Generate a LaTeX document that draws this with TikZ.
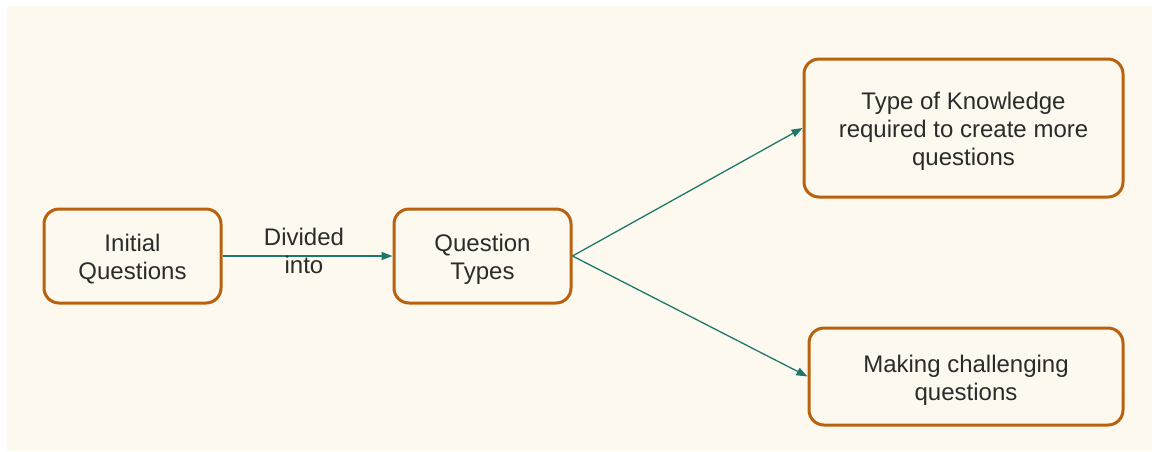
\documentclass[tikz,border=0pt]{standalone}
\usepackage{fontspec}
\setmainfont{Liberation Sans}
\usetikzlibrary{arrows.meta}
\definecolor{cream}{HTML}{FEF9EF}
\definecolor{boxedge}{HTML}{B8610F}
\definecolor{teal}{HTML}{1B7A6C}
\definecolor{txt}{HTML}{2B2B2B}
\newcommand{\topstrut}{\rule{0pt}{24pt}}
\tikzset{
  box/.style={draw=boxedge, line width=3pt, rounded corners=15pt, fill=cream,
    inner sep=0pt, align=center, text=txt, font=\fontsize{24}{28}\selectfont},
  conn/.style={draw=teal, line width=1.3pt, -{Triangle[length=11pt,width=8pt]}},
  lbl/.style={text=txt, font=\fontsize{24}{28}\selectfont, align=center, inner sep=0pt}
}
\begin{document}
\begin{tikzpicture}[x=1pt,y=-1pt]
\useasboundingbox (0,0) rectangle (1152,451);
\fill[white] (0,0) rectangle (1152,451);
\fill[cream] (7,6) rectangle (1152,451);
\node[box, minimum width=177pt, minimum height=94pt] (init) at (132.5,256) {\topstrut Initial\\Questions};
\node[box, minimum width=177pt, minimum height=94pt] (qt) at (482.5,256) {\topstrut Question\\Types};
\node[box, minimum width=319pt, minimum height=138pt] (tk) at (963.5,128) {\topstrut Type of Knowledge\\required to create more\\questions};
\node[box, minimum width=314pt, minimum height=97pt] (mc) at (966,376.5) {\topstrut Making challenging\\questions};
\draw[conn] (init.east) -- (qt.west);
\node[lbl] (div) at (304,251) {Divided\\into};
\draw[conn] (qt.east) -- (tk.west);
\draw[conn] (qt.east) -- (mc.west);
\end{tikzpicture}
\end{document}
